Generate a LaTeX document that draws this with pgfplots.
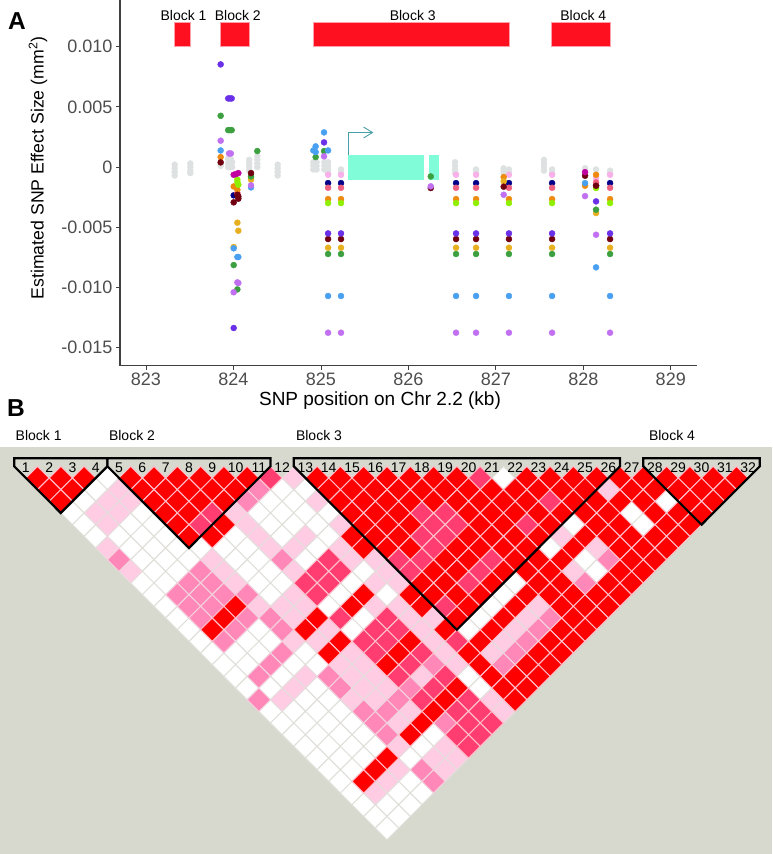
\documentclass[border=0pt]{standalone}
\usepackage{pgfplots}
\pgfplotsset{compat=1.18}
\usetikzlibrary{arrows.meta}
\usepackage{fontspec}
\setmainfont{Liberation Sans}
\definecolor{bgc}{HTML}{D7D9CE}
\definecolor{cr}{HTML}{FF0000}
\definecolor{cd}{HTML}{FF3D70}
\definecolor{cm}{HTML}{FF88B8}
\definecolor{cl}{HTML}{FFCCE4}
\definecolor{cpurple}{HTML}{6A30E8}
\definecolor{cgreen}{HTML}{3CA040}
\definecolor{corchid}{HTML}{C070F0}
\definecolor{cblue}{HTML}{4AA0F0}
\definecolor{cgold}{HTML}{E6B020}
\definecolor{corange}{HTML}{EE8A10}
\definecolor{cmaroon}{HTML}{700010}
\definecolor{cmag}{HTML}{C000A0}
\definecolor{cnavy}{HTML}{000088}
\definecolor{csalmon}{HTML}{EE6080}
\definecolor{clime}{HTML}{90EE00}
\definecolor{cpink}{HTML}{F8B0E8}
\definecolor{cgrey}{HTML}{DDE1E1}
\definecolor{ccyan}{HTML}{80FCD8}
\definecolor{cteal}{HTML}{4A9EA8}
\definecolor{cblock}{HTML}{FF1020}
\definecolor{cblockb}{HTML}{FFA0A8}
\definecolor{tickc}{HTML}{4D4D4D}
\definecolor{gridw}{HTML}{E0DFD9}
\definecolor{gridl}{HTML}{E6DDDD}
\definecolor{gridm}{HTML}{F2D2DE}
\definecolor{gridr}{HTML}{FFC0CC}
\begin{document}
\begin{tikzpicture}[x=1pt,y=1pt]
\useasboundingbox (0,0) rectangle (772,854);
\fill[bgc] (0,0) rectangle (772,407);
\node[font=\fontsize{24.5}{26}\selectfont\bfseries] at (17,833) {A};
\node[font=\fontsize{24.5}{26}\selectfont\bfseries] at (16,446) {B};
\node[font=\fontsize{14}{16}\selectfont] at (38.7,418) {Block 1};
\node[font=\fontsize{14}{16}\selectfont] at (132,418) {Block 2};
\node[font=\fontsize{14}{16}\selectfont] at (319,418) {Block 3};
\node[font=\fontsize{14}{16}\selectfont] at (672,418) {Block 4};
\begin{axis}[at={(120pt,488.3pt)},anchor=south west,width=577pt,height=365.7pt,scale only axis,
 xmin=822.703,xmax=829.30,ymin=-0.0165,ymax=0.01388,
 axis x line=bottom,axis y line=left,
 axis line style={-,line width=1.2pt,color=black!75},
 xtick={823,824,825,826,827,828,829},xticklabels={823,824,825,826,827,828,829},
 ytick={-0.015,-0.01,-0.005,0,0.005,0.01},yticklabels={-0.015,-0.010,-0.005,0,0.005,0.010},
 scaled y ticks=false,
 tick style={color=black!75,line width=0.8pt},tick align=outside,major tick length=4pt,
 tick label style={color=tickc,font=\fontsize{18}{20}\selectfont},
 xlabel={SNP position on Chr 2.2 (kb)},ylabel={Estimated SNP Effect Size (mm\textsuperscript{2})},
 every axis x label/.style={at={(axis description cs:0.4506,-0.096)},anchor=center,font=\fontsize{19}{21}\selectfont},
 every axis y label/.style={at={(axis description cs:-0.142,0.5406)},anchor=center,rotate=90,font=\fontsize{17.7}{19}\selectfont},
 clip=false]
% blocks
\addplot[fill=cblock,draw=cblockb,line width=0.7pt] coordinates {(823.33,0.01)(823.51,0.01)(823.51,0.012)(823.33,0.012)} -- cycle;
\addplot[fill=cblock,draw=cblockb,line width=0.7pt] coordinates {(823.85,0.01)(824.18,0.01)(824.18,0.012)(823.85,0.012)} -- cycle;
\addplot[fill=cblock,draw=cblockb,line width=0.7pt] coordinates {(824.91,0.01)(827.15,0.01)(827.15,0.012)(824.91,0.012)} -- cycle;
\addplot[fill=cblock,draw=cblockb,line width=0.7pt] coordinates {(827.64,0.01)(828.31,0.01)(828.31,0.012)(827.64,0.012)} -- cycle;
% grey
\addplot[only marks,mark=*,mark size=3pt,mark options={fill=cgrey,draw=cgrey}] coordinates {
(823.328,0.0002)(823.328,-0.0001)(823.328,-0.0004)(823.328,-0.0007)
(823.507,0.0003)(823.507,0)(823.507,-0.0003)(823.507,-0.0005)
(823.854,0.0003)(823.854,0.0001)
(823.94,0.0007)(823.94,0.0003)(823.94,0)(823.97,0.0007)(823.97,0.0003)(823.97,0)(823.985,0.0004)(823.985,0)
(824.18,0.0006)(824.18,0.0003)(824.18,0)(824.18,-0.0003)
(824.273,0.0009)(824.273,0.0006)(824.273,0.0003)(824.273,0)
(824.506,0.0002)(824.506,-0.0001)(824.506,-0.0004)(824.506,-0.0007)
(824.914,0.0004)(824.914,0.0001)(824.914,-0.0002)(824.95,0.0004)(824.95,0.0001)(824.95,-0.0002)
(825.04,0.0004)(825.04,0.0001)(825.04,-0.0002)(825.082,0.0004)(825.082,0.0001)(825.082,-0.0002)(825.082,-0.0005)
(825.23,-0.0002)(825.23,-0.0005)
(826.534,0.0004)(826.534,0.0001)(826.534,-0.0002)(826.534,-0.0005)
(826.774,-0.0002)(826.774,-0.0005)(827.09,-0.0001)(827.09,-0.0003)(827.09,-0.0005)(827.15,-0.0002)(827.15,-0.0005)
(827.55,0.0006)(827.55,0.0003)(827.55,0)(827.55,-0.0003)
(827.643,-0.0002)(827.643,-0.0005)(828.02,-0.0001)(828.146,-0.0002)(828.306,-0.0003)(828.306,-0.0005)};
% gene model
\addplot[fill=ccyan,draw=none] coordinates {(825.31,0.001)(826.18,0.001)(826.18,-0.00105)(825.31,-0.00105)} -- cycle;
\addplot[fill=ccyan,draw=none] coordinates {(826.24,0.001)(826.35,0.001)(826.35,-0.00105)(826.24,-0.00105)} -- cycle;
\addplot[cteal,line width=0.9pt,-{Straight Barb[length=9pt,width=11pt]}] coordinates {(825.31,0.001)(825.31,0.00287)(825.6,0.00287)};
% points
\addplot[only marks,mark=*,mark size=3pt,mark options={fill=cpink,draw=cpink}] coordinates {
(825.082,-0.00064)(825.23,-0.00064)(826.545,-0.00064)(826.774,-0.00064)(827.15,-0.00064)(827.643,-0.00064)(828.306,-0.00064)(828.146,-0.00091)};
\addplot[only marks,mark=*,mark size=3pt,mark options={fill=cnavy,draw=cnavy}] coordinates {
(825.082,-0.00133)(825.23,-0.00133)(826.545,-0.00133)(826.774,-0.00133)(827.15,-0.00133)(827.643,-0.00133)(828.306,-0.00133)(824.003,-0.00235)(828.146,-0.00155)};
\addplot[only marks,mark=*,mark size=3pt,mark options={fill=csalmon,draw=csalmon}] coordinates {
(825.082,-0.00172)(825.23,-0.00172)(826.545,-0.00172)(826.774,-0.00172)(827.15,-0.00172)(827.643,-0.00172)(828.306,-0.00172)(824.045,-0.00216)(828.146,-0.00127)};
\addplot[only marks,mark=*,mark size=3pt,mark options={fill=corange,draw=corange}] coordinates {
(825.082,-0.00266)(825.23,-0.00266)(826.545,-0.00266)(826.774,-0.00266)(827.15,-0.00266)(827.643,-0.00266)(828.306,-0.00266)(823.854,0.00083)(824.003,-0.00161)(824.045,-0.00188)(827.09,-0.00083)(828.02,-0.00155)(828.146,-0.00064)};
\addplot[only marks,mark=*,mark size=3pt,mark options={fill=clime,draw=clime}] coordinates {
(825.082,-0.00299)(825.23,-0.00299)(826.545,-0.00299)(826.774,-0.00299)(827.15,-0.00299)(827.643,-0.00299)(828.306,-0.00299)(824.045,-0.00105)(824.045,-0.00125)(824.056,-0.00147)(824.201,-0.00083)(828.146,-0.00174)};
\addplot[only marks,mark=*,mark size=3pt,mark options={fill=cgold,draw=cgold}] coordinates {
(825.082,-0.0067)(825.23,-0.0067)(826.545,-0.0067)(826.774,-0.0067)(827.15,-0.0067)(827.643,-0.0067)(828.306,-0.0067)(824.045,-0.00462)(824.056,-0.00529)(824.003,-0.00664)(824.201,-0.00105)(828.146,-0.00382)(827.09,-0.00119)};
\addplot[only marks,mark=*,mark size=3pt,mark options={fill=cgreen,draw=cgreen}] coordinates {
(825.082,-0.00722)(825.23,-0.00722)(826.545,-0.00722)(826.774,-0.00722)(827.15,-0.00722)(827.643,-0.00722)(828.306,-0.00722)(823.854,0.00426)(823.94,0.00307)(823.96,0.00307)(823.98,0.00307)(824.003,-0.00814)(824.045,-0.01016)(824.201,-0.00078)(824.273,0.00133)(825.036,0.00133)(824.94,0.00083)(828.146,-0.00354)(826.256,-0.00078)};
\addplot[only marks,mark=*,mark size=3pt,mark options={fill=cblue,draw=cblue}] coordinates {
(825.082,-0.01071)(825.23,-0.01071)(826.545,-0.01071)(826.774,-0.01071)(827.15,-0.01071)(827.643,-0.01071)(828.306,-0.01071)(823.854,0.00138)(824.003,-0.00675)(824.045,-0.00747)(824.056,-0.00747)(824.201,-0.00169)(824.914,0.00138)(824.94,0.00172)(824.94,0.00125)(825.036,0.00288)(825.082,0.00138)(828.02,-0.00133)(828.146,-0.00833)};
\addplot[only marks,mark=*,mark size=3pt,mark options={fill=cmaroon,draw=cmaroon}] coordinates {
(825.082,-0.00598)(825.23,-0.00598)(826.545,-0.00598)(826.774,-0.00598)(827.15,-0.00598)(827.643,-0.00598)(828.306,-0.00598)(823.854,0.00039)(824.003,-0.00293)(824.045,-0.0023)(824.056,-0.00263)(824.056,-0.00245)(824.201,-0.0005)(826.256,-0.00174)(827.09,-0.00163)(828.02,-0.00072)(828.146,-0.00155)};
\addplot[only marks,mark=*,mark size=3pt,mark options={fill=corchid,draw=corchid}] coordinates {
(825.082,-0.01376)(825.23,-0.01376)(826.545,-0.01376)(826.774,-0.01376)(827.15,-0.01376)(827.643,-0.01376)(828.306,-0.01376)(823.854,0.00219)(823.95,0.00113)(823.97,0.00113)(824.045,-0.00958)(824.056,-0.00963)(824.003,-0.0104)(824.201,-0.00152)(825.036,0.00089)(826.256,-0.0016)(827.09,-0.0023)(828.02,-0.00241)(828.146,-0.00562)};
\addplot[only marks,mark=*,mark size=3pt,mark options={fill=cpurple,draw=cpurple}] coordinates {
(825.082,-0.00551)(825.23,-0.00551)(826.545,-0.00551)(826.774,-0.00551)(827.15,-0.00551)(827.643,-0.00551)(828.306,-0.00551)(823.854,0.00853)(823.94,0.0057)(823.96,0.0057)(823.98,0.0057)(824.003,-0.01337)(825.036,0.00205)(828.146,-0.00285)};
\addplot[only marks,mark=*,mark size=3pt,mark options={fill=cmag,draw=cmag}] coordinates {
(824.003,-0.00064)(824.03,-0.00058)(824.056,-0.0005)(828.02,-0.00042)};
\node[font=\fontsize{14}{16}\selectfont] at (axis cs:823.43,0.0126) {Block 1};
\node[font=\fontsize{14}{16}\selectfont] at (axis cs:824.05,0.0126) {Block 2};
\node[font=\fontsize{14}{16}\selectfont] at (axis cs:826.05,0.0126) {Block 3};
\node[font=\fontsize{14}{16}\selectfont] at (axis cs:828.0,0.0126) {Block 4};
\end{axis}
\begin{axis}[at={(0pt,0pt)},anchor=south west,width=772pt,height=407pt,scale only axis,hide axis,
 xmin=-0.219,xmax=66.05,ymin=-1.656,ymax=33.22,y dir=reverse,clip=false]
% white cells
\addplot[only marks,mark=square*,mark size=8.25pt,mark options={rotate=45,fill=white,draw=gridw,line width=1pt}] coordinates {
(9,1)(43,1)(8,2)(24,2)(26,2)(7,3)(23,3)(25,3)(57,3)(6,4)(12,4)(22,4)(24,4)(26,4)(28,4)(54,4)
(7,5)(11,5)(13,5)(23,5)(25,5)(27,5)(49,5)(55,5)(8,6)(10,6)(12,6)(14,6)(20,6)(24,6)(28,6)
(11,7)(13,7)(15,7)(17,7)(19,7)(21,7)(27,7)(47,7)(12,8)(14,8)(16,8)(20,8)(22,8)(26,8)(50,8)
(13,9)(15,9)(21,9)(23,9)(31,9)(51,9)(12,10)(14,10)(22,10)(24,10)(30,10)(44,10)
(13,11)(23,11)(29,11)(33,11)(43,11)(14,12)(28,12)(42,12)(15,13)(31,13)(41,13)
(16,14)(22,14)(30,14)(40,14)(17,15)(21,15)(23,15)(18,16)(20,16)(22,16)(26,16)
(19,17)(21,17)(25,17)(27,17)(20,18)(24,18)(40,18)(21,19)(23,19)(27,19)(41,19)(26,20)(28,20)
(23,21)(25,21)(27,21)(29,21)(24,22)(26,22)(28,22)(30,22)(25,23)(27,23)(29,23)(31,23)(37,23)
(26,24)(28,24)(30,24)(32,24)(36,24)(27,25)(29,25)(31,25)(35,25)(28,26)(30,26)(29,27)(35,27)
(30,28)(34,28)(36,28)(31,29)(33,29)(35,29)(32,30)(34,30)(33,31)};
% light pink
\addplot[only marks,mark=square*,mark size=8.25pt,mark options={rotate=45,fill=cl,draw=gridl,line width=1pt}] coordinates {
(25,1)(10,2)(52,2)(9,3)(11,3)(27,3)(8,4)(10,4)(20,4)(9,5)(21,5)(29,5)(22,6)(26,6)(48,6)
(9,7)(23,7)(25,7)(29,7)(51,7)(18,8)(30,8)(32,8)(11,9)(19,9)(25,9)(33,9)(49,9)(20,10)(32,10)(34,10)
(25,11)(22,12)(24,12)(26,12)(32,12)(34,12)(46,12)(25,13)(35,13)(37,13)(45,13)(28,14)(36,14)(44,14)
(25,15)(27,15)(37,15)(43,15)(30,16)(38,16)(42,16)(29,17)(31,17)(39,17)(26,18)(30,18)(32,18)(36,18)
(25,19)(31,19)(33,19)(24,20)(30,20)(32,20)(42,20)(35,21)(43,21)(34,22)(34,24)(38,24)(37,25)(39,25)
(34,26)(38,26)(33,27)(32,28)};
% mid pink
\addplot[only marks,mark=square*,mark size=8.25pt,mark options={rotate=45,fill=cm,draw=gridm,line width=1pt}] coordinates {
(22,2)(21,3)(10,8)(24,8)(52,8)(17,9)(16,10)(18,10)(50,10)(15,11)(17,11)(19,11)(21,11)(16,12)(18,12)
(17,13)(21,13)(23,13)(47,13)(20,14)(24,14)(46,14)(19,15)(45,15)(24,16)(44,16)(23,17)(37,17)(43,17)
(22,18)(28,18)(29,19)(35,19)(22,20)(34,20)(31,21)(33,21)(32,22)(38,22)(33,23)(36,26)(37,27)};
% dark pink
\addplot[only marks,mark=square*,mark size=8.25pt,mark options={rotate=45,fill=cd,draw=gridr,line width=1pt}] coordinates {
(23,1)(41,1)(47,3)(18,4)(36,4)(38,4)(17,5)(37,5)(39,5)(45,5)(36,6)(38,6)(37,7)(28,8)(34,8)(36,8)(42,8)
(27,9)(29,9)(35,9)(41,9)(26,10)(28,10)(40,10)(27,11)(38,12)(29,13)(33,13)(32,14)(34,14)
(31,15)(33,15)(39,15)(32,16)(36,16)(35,17)(34,18)(38,18)(37,19)(36,20)(40,20)(39,21)(41,21)
(40,22)(42,22)(39,23)(41,23)(40,24)};
% red
\addplot[only marks,mark=square*,mark size=8.25pt,mark options={rotate=45,fill=cr,draw=gridr,line width=1pt}] coordinates {
(3,1)(5,1)(7,1)(11,1)(13,1)(15,1)(17,1)(19,1)(21,1)(27,1)(29,1)(31,1)(33,1)(35,1)(37,1)(39,1)(45,1)(47,1)(49,1)(51,1)(53,1)(55,1)(57,1)(59,1)(61,1)(63,1)
(4,2)(6,2)(12,2)(14,2)(16,2)(18,2)(20,2)(28,2)(30,2)(32,2)(34,2)(36,2)(38,2)(40,2)(42,2)(44,2)(46,2)(48,2)(50,2)(54,2)(56,2)(58,2)(60,2)(62,2)
(5,3)(13,3)(15,3)(17,3)(19,3)(29,3)(31,3)(33,3)(35,3)(37,3)(39,3)(41,3)(43,3)(45,3)(49,3)(51,3)(53,3)(55,3)(59,3)(61,3)
(14,4)(16,4)(30,4)(32,4)(34,4)(40,4)(42,4)(44,4)(46,4)(48,4)(50,4)(52,4)(56,4)(58,4)(60,4)
(15,5)(19,5)(31,5)(33,5)(35,5)(41,5)(43,5)(47,5)(51,5)(53,5)(57,5)(59,5)
(16,6)(18,6)(30,6)(32,6)(34,6)(40,6)(42,6)(44,6)(46,6)(50,6)(52,6)(54,6)(56,6)(58,6)
(31,7)(33,7)(35,7)(39,7)(41,7)(43,7)(45,7)(49,7)(53,7)(55,7)(57,7)
(38,8)(40,8)(44,8)(46,8)(48,8)(54,8)(56,8)
(37,9)(39,9)(43,9)(45,9)(47,9)(53,9)(55,9)
(36,10)(38,10)(42,10)(46,10)(48,10)(52,10)(54,10)
(31,11)(35,11)(37,11)(39,11)(41,11)(45,11)(47,11)(49,11)(51,11)(53,11)
(20,12)(30,12)(36,12)(40,12)(44,12)(48,12)(50,12)(52,12)
(19,13)(27,13)(39,13)(43,13)(49,13)(51,13)
(18,14)(26,14)(38,14)(42,14)(48,14)(50,14)
(29,15)(35,15)(41,15)(47,15)(49,15)
(28,16)(34,16)(40,16)(46,16)(48,16)
(33,17)(41,17)(45,17)(47,17)
(42,18)(44,18)(46,18)(39,19)(43,19)(45,19)(38,20)(44,20)(37,21)(36,22)(35,23)(33,25)(32,26)(31,27)};
\end{axis}
\begin{axis}[at={(0pt,0pt)},anchor=south west,width=772pt,height=407pt,scale only axis,hide axis,
 xmin=-0.219,xmax=66.05,ymin=-1.656,ymax=33.22,y dir=reverse,clip=false]
% block outlines
\addplot[black,line width=2.2pt,line join=miter] coordinates {(1,-0.69)(9,-0.69)(9,0)(5,4)(1,0)} -- cycle;
\addplot[black,line width=2.2pt,line join=miter] coordinates {(9,-0.69)(23,-0.69)(23,0)(16,7)(9,0)} -- cycle;
\addplot[black,line width=2.2pt,line join=miter] coordinates {(25,-0.69)(53,-0.69)(53,0)(39,14)(25,0)} -- cycle;
\addplot[black,line width=2.2pt,line join=miter] coordinates {(55,-0.69)(65,-0.69)(65,0)(60,5)(55,0)} -- cycle;
% SNP numbers
\pgfplotsinvokeforeach{1,...,32}{\node[font=\fontsize{14}{16}\selectfont,inner sep=0pt] at (axis cs:{2*#1},0.12) {#1};}
\end{axis}
\end{tikzpicture}
\end{document}
